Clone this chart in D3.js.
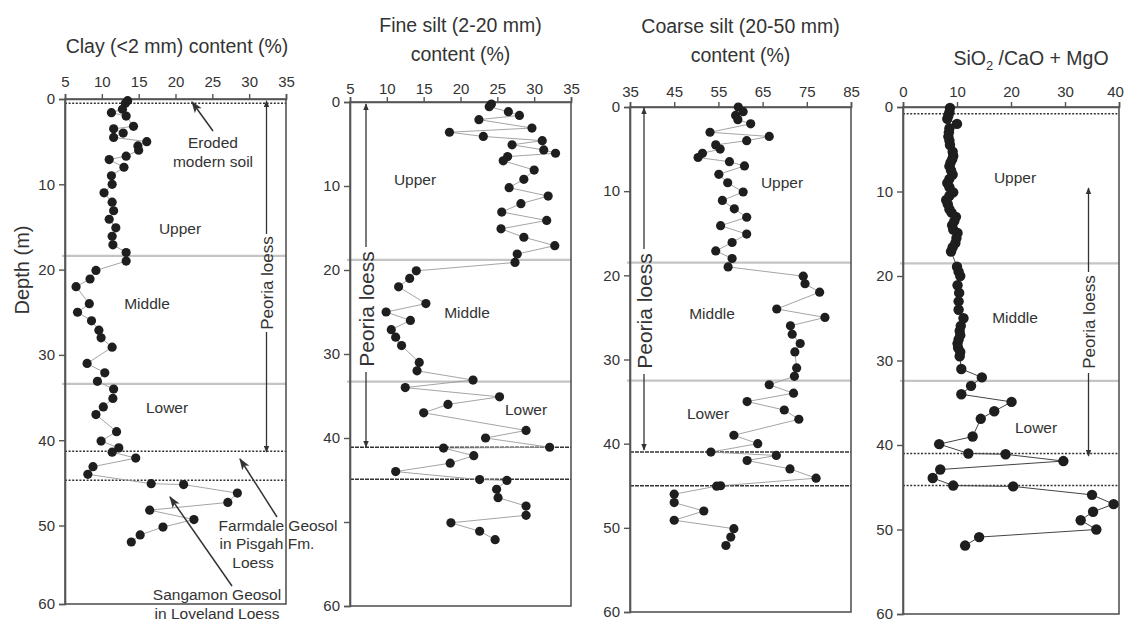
<!DOCTYPE html>
<html>
<head>
<meta charset="utf-8">
<script src="https://cdn.jsdelivr.net/npm/d3@7"></script>
<style>
  html, body { margin: 0; padding: 0; background: #fff; }
  svg { display: block; }
  text { font-family: "Liberation Sans", Arial, sans-serif; fill: #333; }
</style>
</head>
<body>
<svg id="chart" width="1126" height="622"></svg>
<script>
// ---------------- DATA ----------------
const depthTicks = [0, 10, 20, 30, 40, 50, 60];

// Panel 1: Clay (<2 mm) content (%)
const clayTicks = [5, 10, 15, 20, 25, 30, 35];
const clayDepth = [0.2, 0.5, 1.2, 1.6, 2.0, 3.2, 3.5, 4.0, 4.5, 5.0, 5.5, 6.0, 6.7, 7.1, 8.0, 9.0, 10.0, 11.0, 12.1, 13.1, 14.1, 15.1, 16.1, 17.1, 18.0, 19.0, 20.1, 21.1, 22.0, 24.0, 25.0, 26.0, 27.1, 28.0, 29.1, 31.0, 32.1, 33.1, 34.0, 35.1, 36.1, 37.0, 39.0, 40.1, 40.9, 41.4, 42.1, 43.1, 44.0, 45.1, 45.2, 46.2, 47.3, 48.2, 49.3, 50.2, 51.2, 52.1];
const clayValue = [13.5, 13.2, 12.8, 11.3, 13.3, 14.3, 11.6, 12.9, 11.6, 16.1, 14.9, 15.0, 13.3, 11.0, 13.0, 11.3, 11.4, 10.3, 11.4, 11.6, 11.0, 11.9, 11.4, 11.5, 13.3, 13.3, 9.2, 8.4, 6.5, 8.3, 6.7, 8.6, 9.6, 9.9, 11.4, 8.0, 10.4, 9.4, 11.6, 11.5, 10.2, 9.2, 12.0, 9.9, 12.3, 11.4, 14.6, 8.8, 8.1, 16.7, 21.1, 28.4, 27.1, 16.5, 22.5, 18.3, 15.2, 14.0];

// Panel 2: Fine silt (2-20 mm) content (%)
const fineTicks = [5, 10, 15, 20, 25, 30, 35];
const fineDepth = [0.24, 0.56, 1.15, 1.6, 2.1, 3.1, 3.6, 4.1, 4.6, 5.1, 5.7, 6.1, 6.5, 7.0, 8.1, 9.2, 10.2, 11.2, 12.1, 13.1, 14.1, 15.1, 16.1, 17.1, 18.1, 19.1, 20.1, 21.0, 22.0, 24.0, 25.0, 26.0, 27.1, 28.0, 29.0, 31.0, 32.0, 33.1, 34.0, 35.1, 36.0, 37.0, 39.1, 40.0, 41.1, 41.2, 42.1, 43.0, 44.0, 44.95, 45.05, 46.1, 47.1, 48.1, 49.2, 50.1, 51.1, 52.1];
const fineValue = [24.2, 23.9, 26.5, 28.0, 22.5, 29.7, 18.5, 23.1, 31.1, 27.0, 31.3, 32.9, 26.4, 25.8, 30.0, 28.6, 26.6, 31.9, 28.2, 25.6, 31.7, 25.5, 28.6, 32.8, 27.7, 27.4, 14.0, 13.1, 11.6, 15.3, 9.9, 13.2, 10.6, 11.2, 12.0, 14.4, 14.1, 21.7, 12.5, 25.3, 18.3, 15.0, 28.9, 23.4, 32.1, 17.7, 21.8, 18.6, 11.2, 22.6, 26.3, 24.9, 25.1, 28.9, 28.9, 18.7, 22.6, 24.7];

// Panel 3: Coarse silt (20-50 mm) content (%)
const coarseTicks = [35, 45, 55, 65, 75, 85];
const coarseDepth = [0.0, 0.56, 1.0, 1.5, 2.0, 3.0, 3.5, 4.0, 4.5, 5.0, 5.5, 6.0, 6.5, 7.0, 8.0, 9.0, 10.1, 11.1, 12.1, 13.1, 14.1, 15.1, 16.1, 17.1, 18.0, 19.0, 20.1, 21.0, 22.0, 24.0, 25.0, 26.0, 27.0, 28.1, 29.1, 31.0, 32.0, 33.0, 34.0, 35.0, 36.0, 37.1, 39.0, 40.0, 41.0, 41.4, 42.0, 43.0, 44.1, 45.0, 45.05, 46.0, 47.0, 48.0, 49.1, 50.1, 51.1, 52.1];
const coarseValue = [59.5, 60.6, 58.9, 59.4, 62.3, 53.1, 66.5, 61.4, 54.4, 55.4, 51.4, 50.4, 57.5, 60.9, 55.1, 57.1, 60.6, 55.9, 58.6, 61.4, 55.5, 61.4, 58.1, 54.4, 58.1, 57.2, 74.2, 74.6, 77.9, 68.2, 79.1, 71.3, 71.7, 73.5, 72.3, 72.7, 72.2, 66.5, 72.0, 61.5, 69.9, 73.2, 58.5, 63.9, 53.3, 68.1, 61.5, 71.2, 77.1, 55.5, 54.6, 45.0, 45.0, 51.7, 45.0, 58.5, 57.8, 56.7];

// Panel 4: SiO2 / CaO + MgO
const ratioTicks = [0, 10, 20, 30, 40];
const ratioDepth = [0.1, 0.6, 1.0, 1.4, 2.0, 2.5, 3.0, 3.5, 4.0, 4.5, 5.3, 5.8, 6.2, 6.6, 7.0, 7.5, 8.0, 8.5, 9.0, 9.5, 10.1, 10.5, 11.0, 11.5, 12.1, 12.5, 13.0, 13.5, 14.0, 14.5, 14.9, 15.5, 16.1, 16.6, 17.1, 18.9, 19.5, 20.0, 21.1, 22.0, 23.0, 24.0, 25.0, 25.9, 26.5, 27.0, 27.5, 28.0, 28.5, 29.0, 29.5, 31.0, 32.0, 33.0, 34.0, 34.9, 36.0, 36.9, 39.0, 39.9, 41.0, 41.1, 41.9, 42.9, 43.9, 44.8, 44.9, 45.9, 47.0, 47.9, 48.9, 50.0, 50.9, 51.9];
const ratioValue = [8.7, 8.6, 8.4, 8.2, 10.0, 8.6, 8.5, 8.4, 8.6, 8.7, 9.2, 9.3, 9.1, 8.8, 8.6, 8.9, 9.2, 8.6, 8.2, 8.6, 9.3, 8.6, 8.0, 8.3, 8.6, 9.0, 9.8, 9.5, 9.1, 9.3, 10.1, 9.9, 9.7, 9.2, 8.9, 10.0, 10.3, 10.6, 10.1, 10.4, 10.3, 10.3, 11.2, 10.7, 10.5, 10.6, 10.3, 10.1, 10.2, 10.6, 10.5, 10.8, 14.6, 12.6, 10.8, 20.1, 16.9, 14.4, 12.9, 6.7, 12.1, 19.0, 29.7, 6.9, 5.5, 9.3, 20.4, 35.0, 39.0, 35.2, 32.9, 35.8, 14.1, 11.5];

// ---------------- LAYOUT ----------------
const svg = d3.select("#chart");
const defs = svg.append("defs");
defs.append("marker").attr("id", "ah").attr("viewBox", "0 0 10 10")
  .attr("refX", 9).attr("refY", 5).attr("markerWidth", 7).attr("markerHeight", 7)
  .attr("markerUnits", "userSpaceOnUse").attr("orient", "auto")
  .append("path").attr("d", "M0,1 L10,5 L0,9 Z").attr("fill", "#333");
defs.append("marker").attr("id", "ah2").attr("viewBox", "0 0 10 10")
  .attr("refX", 9).attr("refY", 5).attr("markerWidth", 12).attr("markerHeight", 12)
  .attr("markerUnits", "userSpaceOnUse").attr("orient", "auto")
  .append("path").attr("d", "M0,1.5 L10,5 L0,8.5 L2.5,5 Z").attr("fill", "#333");

const panels = [
  { name: "clay", left: 65, right: 286, top: 99, bottom: 604, yDomain: [0, 50, 60], yRangeMid: 525.5,
    xDomain: [5, 35], ticks: clayTicks, depth: clayDepth, value: clayValue, pad: 7, r: 4.6,
    lineColor: "#9a9a9a", lineW: 0.9, hideDepthLabel: [],
    bounds: [{ d: 0.5, t: "dot" }, { d: 18.4, t: "gray" }, { d: 33.4, t: "gray" }, { d: 41.3, t: "dot" }, { d: 44.7, t: "dot" }],
    title: ["Clay (<2 mm) content (%)"], titleY: [53],
    labels: [["Upper", 180, 229], ["Middle", 147, 304], ["Lower", 167, 408]],
    peoria: { x: 266.5, cy: 283, fs: 17, top: 101, t1: 234, t2: 332, bot: 452 } },
  { name: "fine", left: 350, right: 571, top: 102, bottom: 606, yDomain: [0, 60],
    xDomain: [5, 35], ticks: fineTicks, depth: fineDepth, value: fineValue, pad: 3, r: 4.6,
    lineColor: "#9a9a9a", lineW: 0.9, hideDepthLabel: [50],
    bounds: [{ d: 18.8, t: "gray" }, { d: 33.3, t: "gray" }, { d: 41.1, t: "dash" }, { d: 44.9, t: "dash" }],
    title: ["Fine silt (2-20 mm)", "content (%)"], titleY: [32, 61],
    labels: [["Upper", 415, 180], ["Middle", 467, 313], ["Lower", 526, 410]],
    peoria: { x: 366, cy: 309, fs: 21, top: 104, t1: 247, t2: 372, bot: 447 } },
  { name: "coarse", left: 630, right: 851, top: 107, bottom: 612, yDomain: [0, 60],
    xDomain: [35, 85], ticks: coarseTicks, depth: coarseDepth, value: coarseValue, pad: 5, r: 4.6,
    lineColor: "#9a9a9a", lineW: 0.9, hideDepthLabel: [],
    bounds: [{ d: 18.5, t: "gray" }, { d: 32.5, t: "gray" }, { d: 41.0, t: "dash" }, { d: 45.0, t: "dash" }],
    title: ["Coarse silt (20-50 mm)", "content (%)"], titleY: [33, 62],
    labels: [["Upper", 782, 183], ["Middle", 712, 314], ["Lower", 708, 414]],
    peoria: { x: 644, cy: 311, fs: 21, top: 108, t1: 249, t2: 374, bot: 450 } },
  { name: "ratio", left: 903, right: 1119, top: 107, bottom: 614, yDomain: [0, 60],
    xDomain: [0, 40], ticks: ratioTicks, depth: ratioDepth, value: ratioValue, pad: 5, r: 5.2,
    lineColor: "#444", lineW: 1, hideDepthLabel: [],
    bounds: [{ d: 0.8, t: "dot" }, { d: 18.5, t: "gray" }, { d: 32.4, t: "gray" }, { d: 41.0, t: "dot" }, { d: 44.8, t: "dot" }],
    title: null, titleY: [65],
    labels: [["Upper", 1015, 178], ["Middle", 1015, 318], ["Lower", 1036, 428]],
    peoria: { x: 1088.5, cy: 322, fs: 17, top: 188, t1: 272, t2: 373, bot: 456 } }
];

panels.forEach(p => {
  const g = svg.append("g").attr("class", "panel-" + p.name);
  const x = d3.scaleLinear().domain(p.xDomain).range([p.left, p.right]);
  const y = d3.scaleLinear().domain(p.yDomain)
    .range(p.yDomain.length === 3 ? [p.top, p.yRangeMid, p.bottom] : [p.top, p.bottom]);

  // boundary lines
  p.bounds.forEach(b => {
    const ln = g.append("line")
      .attr("x1", p.left - (b.t === "gray" ? 3 : 0)).attr("x2", p.right)
      .attr("y1", y(b.d)).attr("y2", y(b.d));
    if (b.t === "gray") ln.attr("stroke", "#c4c4c4").attr("stroke-width", 2.2);
    else if (b.t === "dot") ln.attr("stroke", "#333").attr("stroke-width", 1.4).attr("stroke-dasharray", "2,1.6");
    else ln.attr("stroke", "#333").attr("stroke-width", 1.5).attr("stroke-dasharray", "4,1");
  });

  // frame
  g.append("rect").attr("x", p.left).attr("y", p.top)
    .attr("width", p.right - p.left).attr("height", p.bottom - p.top)
    .attr("fill", "none").attr("stroke", "#555").attr("stroke-width", 1.6);

  // axes
  const lastX = p.ticks[p.ticks.length - 1];
  const ax = g.append("g").attr("transform", `translate(0,${p.top})`)
    .call(d3.axisTop(x).tickValues(p.ticks).tickSize(5).tickPadding(p.pad).tickFormat(d3.format("d")));
  const ay = g.append("g").attr("transform", `translate(${p.left},0)`)
    .call(d3.axisLeft(y).tickValues(depthTicks).tickSize(6).tickPadding(4)
      .tickFormat(d => p.hideDepthLabel.includes(d) ? "" : d3.format("d")(d)));
  [ax, ay].forEach(a => {
    a.select(".domain").attr("stroke", "#555").attr("stroke-width", 1.6);
    a.selectAll(".tick line").attr("stroke", "#555").attr("stroke-width", 1.4);
    a.selectAll(".tick text").attr("font-size", 15).attr("fill", "#444")
      .attr("font-family", "'Liberation Sans', Arial, sans-serif");
  });
  if (p.name === "ratio") {
    ax.selectAll(".tick text").filter(d => d === lastX).attr("dx", -4);
  }

  // connecting line
  const pts = p.depth.map((d, i) => [p.value[i], d]);
  g.append("path").datum(pts)
    .attr("fill", "none").attr("stroke", p.lineColor).attr("stroke-width", p.lineW)
    .attr("d", d3.line().x(d => x(d[0])).y(d => y(d[1])));
  g.selectAll("circle.pt").data(pts).join("circle").attr("class", "pt")
    .attr("cx", d => x(d[0])).attr("cy", d => y(d[1])).attr("r", p.r)
    .attr("fill", "#1e1e1e");

  // titles
  const cx = (p.left + p.right) / 2;
  if (p.title) {
    p.title.forEach((t, i) => {
      g.append("text").attr("x", p.name === "clay" ? 177 : cx).attr("y", p.titleY[i])
        .attr("text-anchor", "middle").attr("font-size", 19.5).text(t);
    });
  } else {
    const t = g.append("text").attr("x", 1031).attr("y", p.titleY[0])
      .attr("text-anchor", "middle").attr("font-size", 19.5);
    t.append("tspan").text("SiO");
    t.append("tspan").attr("font-size", 13).attr("dy", 5).text("2");
    t.append("tspan").attr("dy", -5).text(" /CaO + MgO");
  }

  // region labels
  p.labels.forEach(l => {
    g.append("text").attr("x", l[1]).attr("y", l[2]).attr("dy", "0.35em")
      .attr("text-anchor", "middle").attr("font-size", 15.5).text(l[0]);
  });

  // Peoria loess
  const pe = p.peoria;
  g.append("line").attr("x1", pe.x).attr("x2", pe.x).attr("y1", pe.t1).attr("y2", pe.top)
    .attr("stroke", "#333").attr("stroke-width", 1.3).attr("marker-end", "url(#ah)");
  g.append("line").attr("x1", pe.x).attr("x2", pe.x).attr("y1", pe.t2).attr("y2", pe.bot)
    .attr("stroke", "#333").attr("stroke-width", 1.3).attr("marker-end", "url(#ah)");
  g.append("text").attr("transform", `translate(${pe.x + pe.fs * 0.36},${pe.cy}) rotate(-90)`)
    .attr("text-anchor", "middle").attr("font-size", pe.fs).text("Peoria loess");
});

// Depth axis title
svg.append("text").attr("transform", "translate(29,270) rotate(-90)")
  .attr("text-anchor", "middle").attr("font-size", 20).text("Depth (m)");

// Panel 1 annotations
const ann = svg.append("g");
ann.append("text").attr("x", 213).attr("y", 148).attr("text-anchor", "middle").attr("font-size", 15.5).text("Eroded");
ann.append("text").attr("x", 213).attr("y", 167).attr("text-anchor", "middle").attr("font-size", 15.5).text("modern soil");
ann.append("line").attr("x1", 213).attr("y1", 131).attr("x2", 192).attr("y2", 102)
  .attr("stroke", "#333").attr("stroke-width", 1.5).attr("marker-end", "url(#ah2)");

[["Farmdale Geosol", 278, 531], ["in Pisgah Fm.", 267, 549], ["Loess", 253, 568]].forEach(t => {
  ann.append("text").attr("x", t[1]).attr("y", t[2]).attr("text-anchor", "middle").attr("font-size", 15.5).text(t[0]);
});
ann.append("line").attr("x1", 277).attr("y1", 517).attr("x2", 240).attr("y2", 459)
  .attr("stroke", "#333").attr("stroke-width", 1.5).attr("marker-end", "url(#ah2)");

[["Sangamon Geosol", 217, 600], ["in Loveland Loess", 217, 619]].forEach(t => {
  ann.append("text").attr("x", t[1]).attr("y", t[2]).attr("text-anchor", "middle").attr("font-size", 15.5).text(t[0]);
});
ann.append("line").attr("x1", 232).attr("y1", 586).attr("x2", 170).attr("y2", 497)
  .attr("stroke", "#333").attr("stroke-width", 1.5).attr("marker-end", "url(#ah2)");
</script>
</body>
</html>
